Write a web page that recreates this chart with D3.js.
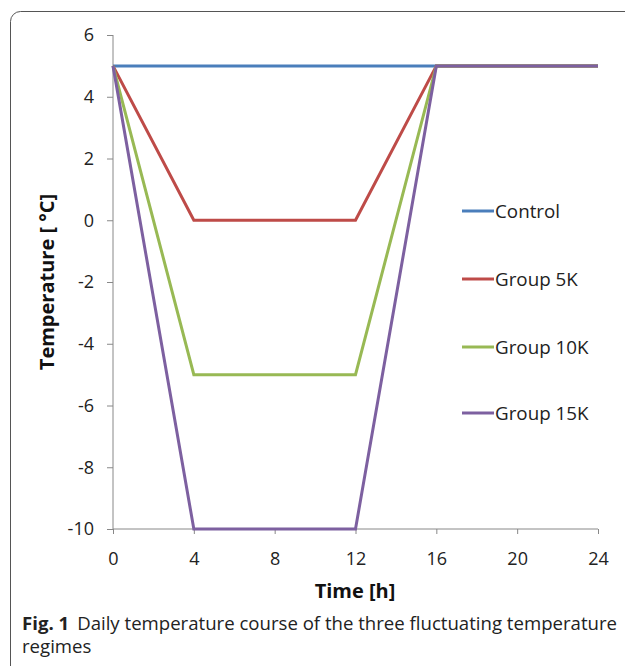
<!DOCTYPE html>
<html><head><meta charset="utf-8">
<script src="https://cdn.jsdelivr.net/npm/d3@7"></script>
<style>body{margin:0;background:#fff;}svg{display:block;}</style>
</head><body>
<svg id="c" width="625" height="666"></svg>
<script>
const hours = [0, 4, 12, 16, 24];
const seriesNames = ["Control", "Group 5K", "Group 10K", "Group 15K"];
const controlValues = [5, 5, 5, 5, 5];
const group5Values = [5, 0, 0, 5, 5];
const group10Values = [5, -5, -5, 5, 5];
const group15Values = [5, -10, -10, 5, 5];
const colors = ["#4a7ebb", "#be4b48", "#98b954", "#7d60a0"];
const xTicks = [0, 4, 8, 12, 16, 20, 24];
const yTicks = [-10, -8, -6, -4, -2, 0, 2, 4, 6];

const allValues = [controlValues, group5Values, group10Values, group15Values];
const svg = d3.select("#c");
const font = "'Open Sans', sans-serif";

svg.append("rect").attr("x", 10.5).attr("y", 11.5).attr("width", 640).attr("height", 680)
  .attr("rx", 10).attr("fill", "none").attr("stroke", "#555").attr("stroke-width", 1);

const x = d3.scaleLinear().domain([0, 24]).range([113, 598]);
const y = d3.scaleLinear().domain([-10, 6]).range([529, 35]);

const gy = svg.append("g").attr("transform", "translate(113,0)")
  .call(d3.axisLeft(y).tickValues(yTicks).tickSize(6).tickPadding(13).tickFormat(d => d));
const gx = svg.append("g").attr("transform", "translate(0,529)")
  .call(d3.axisBottom(x).tickValues(xTicks).tickSize(5).tickPadding(18));
[gx, gy].forEach(g => {
  g.selectAll("path,line").attr("stroke", "#888").attr("stroke-width", 1);
  g.select(".domain").attr("d", g === gx ? "M113,0H598" : "M0,35V529");
  g.selectAll("text").attr("font-family", font).attr("font-size", 18).attr("fill", "#222");
});
gx.selectAll("text").attr("dy", "0.71em");

const line = d3.line().x((d, i) => x(hours[i])).y(d => y(d));
allValues.forEach((vals, k) => {
  svg.append("path").datum(vals).attr("d", line).attr("fill", "none")
    .attr("stroke", colors[k]).attr("stroke-width", 3).attr("stroke-linejoin", "miter");
});

const legY = [211, 279, 347, 413];
seriesNames.forEach((n, k) => {
  svg.append("line").attr("x1", 462).attr("x2", 494).attr("y1", legY[k]).attr("y2", legY[k])
    .attr("stroke", colors[k]).attr("stroke-width", 3);
  svg.append("text").attr("x", 495).attr("y", legY[k]).attr("dy", "0.35em")
    .attr("font-family", font).attr("font-size", 18.8).attr("fill", "#222").text(n);
});

svg.append("text").attr("x", 355).attr("y", 598).attr("text-anchor", "middle")
  .attr("font-family", font).attr("font-size", 20).attr("font-weight", "bold").attr("fill", "#111").text("Time [h]");
svg.append("text").attr("transform", "translate(54,282) rotate(-90)").attr("text-anchor", "middle")
  .attr("font-family", font).attr("font-size", 20).attr("font-weight", "bold").attr("fill", "#111").text("Temperature [ °C]");

const cap = svg.append("text").attr("x", 22).attr("y", 630).attr("font-family", font).attr("font-size", 18.6).attr("fill", "#222");
cap.append("tspan").attr("font-weight", "bold").text("Fig. 1");
cap.append("tspan").attr("dx", 8).text("Daily temperature course of the three fluctuating temperature");
svg.append("text").attr("x", 22).attr("y", 653).attr("font-family", font).attr("font-size", 18.6).attr("fill", "#222").text("regimes");
</script>
</body></html>
